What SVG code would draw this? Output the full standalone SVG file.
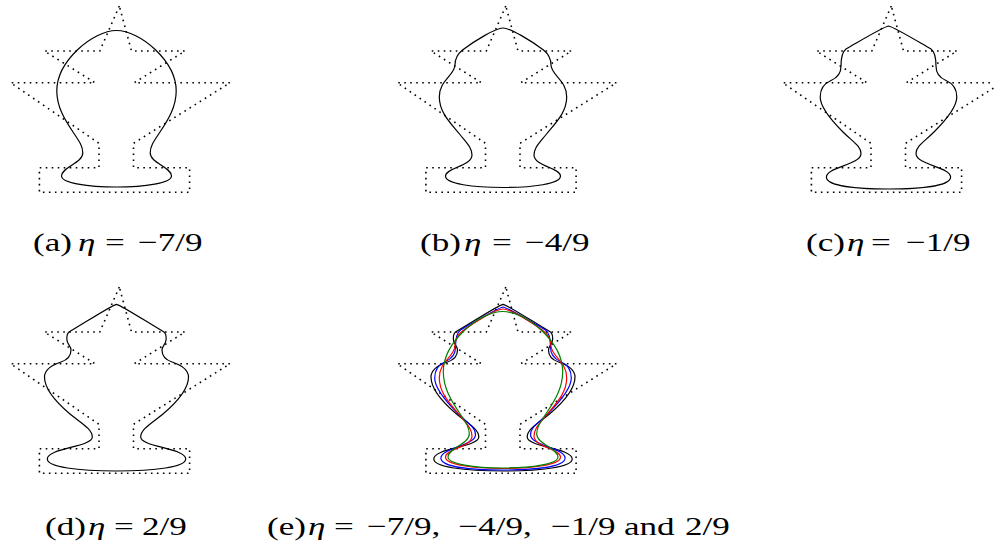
<svg xmlns="http://www.w3.org/2000/svg" width="994" height="546" viewBox="0 0 994 546">
<style>
.poly{fill:none;stroke:#000;stroke-width:1.6;stroke-dasharray:1.6 4.4}
.crv{fill:none;stroke-width:1.2}
.cap{font-family:"Liberation Serif","Times New Roman",serif;font-size:26px;fill:#000}
.it{font-style:italic}
</style>
<defs>
<path id="poly" d="M119.3,6 L99.8,51 L44.3,51 L95,82.7 L10.6,82.7 L99,143.3 L99,167.7 L39.4,167.7 L39.4,192.3 L189.6,192.3 L189.6,167.7 L133.5,167.7 L133.5,143.3 L230.1,82.7 L134.3,82.7 L185.1,51 L131.5,51 Z"/>
<path id="cA" d="M116.5,30.5 C140,30.5 176.2,61 176.2,91 C176.2,107 168,120 160,132 C154,141 150.2,146 150.2,153 C150.2,163 171.5,167 171.5,176 C171.5,183 145,187 116.5,187 C88,187 61.5,183 61.5,176 C61.5,167 82.8,163 82.8,153 C82.8,146 79,141 73,132 C65,120 56.8,107 56.8,91 C56.8,61 93,30.5 116.5,30.5 Z"/>
<path id="cB" d="M116.5,28 C124,28 145,41 157,50 C162,54 164.5,58 164.5,65 C164.5,75 180.2,80 180.2,97 C180.2,113 168,124 160,134 C152,144 147.5,148 147.5,155 C147.5,166 174,168 174,176 C174,184 146,187.5 116.5,187.5 C87,187.5 59,184 59,176 C59,168 85.5,166 85.5,155 C85.5,148 81,144 73,134 C65,124 52.8,113 52.8,97 C52.8,80 68.5,75 68.5,65 C68.5,58 71,54 76,50 C88,41 109,28 116.5,28 Z"/>
<path id="cC" d="M116.5,26 C122,27 145,41 159,49 C163,52 164,58 164,66 C164,73 168,78 174,80.5 C181,83.5 184.8,89 184.8,97 C184.8,108 173,121 162,132 C152,142 144,146 144,153.5 C144,165 178.6,167 178.6,177 C178.6,186 148,189 116.5,189 C85,189 54.4,186 54.4,177 C54.4,167 89,165 89,153.5 C89,146 81,142 71,132 C60,121 48.2,108 48.2,97 C48.2,89 52,83.5 59,80.5 C65,78 69,73 69,66 C69,58 70,52 74,49 C88,41 111,27 116.5,26 Z"/>
<path id="cD" d="M116.5,23.3 C122,24.5 150,43 164,51 C166,52.5 166.2,55 166.2,58 C166.2,63 162,65 162,69 C162,75 166,79 172,81 C181,84 188.5,88 188.5,96 C188.5,108 176,122 163,133 C152,142 140.7,148 140.7,156 C140.7,166 185.7,167 185.7,178 C185.7,186 155,190 116.5,190 C78,190 47.3,186 47.3,178 C47.3,167 92.3,166 92.3,156 C92.3,148 81,142 70,133 C57,122 44.5,108 44.5,96 C44.5,88 52,84 61,81 C67,79 71,75 71,69 C71,65 66.8,63 66.8,58 C66.8,55 67,52.5 69,51 C83,43 111,24.5 116.5,23.3 Z"/>
</defs>

<g id="panel-a" transform="translate(0,0)">
<use href="#poly" class="poly"/>
<use href="#cA" class="crv" stroke="#000"/>
</g>
<g id="panel-b" transform="translate(386.5,0)">
<use href="#poly" class="poly"/>
<use href="#cB" class="crv" stroke="#000"/>
</g>
<g id="panel-c" transform="translate(772,0)">
<use href="#poly" class="poly"/>
<use href="#cC" class="crv" stroke="#000"/>
</g>
<g id="panel-d" transform="translate(0,281)">
<use href="#poly" class="poly"/>
<use href="#cD" class="crv" stroke="#000"/>
</g>
<g id="panel-e" transform="translate(386.5,281)">
<use href="#poly" class="poly"/>
<use href="#cD" class="crv" stroke="#000"/>
<use href="#cC" class="crv" stroke="#0000ff"/>
<use href="#cB" class="crv" stroke="#ff0000"/>
<use href="#cA" class="crv" stroke="#008000"/>
</g>

<g id="captions">
<text class="cap" transform="scale(1.35,1)" y="251"><tspan x="24.44">(a)</tspan><tspan x="57.78" class="it">η</tspan><tspan x="77.8">=</tspan><tspan x="102.22">−7/9</tspan></text>
<text class="cap" transform="scale(1.35,1)" y="251"><tspan x="311.11">(b)</tspan><tspan x="343.7" class="it">η</tspan><tspan x="364.4">=</tspan><tspan x="388.89">−4/9</tspan></text>
<text class="cap" transform="scale(1.35,1)" y="251"><tspan x="597.04">(c)</tspan><tspan x="627.41" class="it">η</tspan><tspan x="645.2">=</tspan><tspan x="671.11">−1/9</tspan></text>
<text class="cap" transform="scale(1.35,1)" y="535"><tspan x="33.33">(d)</tspan><tspan x="65.19" class="it">η</tspan><tspan x="84.4">=</tspan><tspan x="105.19">2/9</tspan></text>
<text class="cap" transform="scale(1.35,1)" y="535"><tspan x="197.78">(e)</tspan><tspan x="228.15" class="it">η</tspan><tspan x="247.4">=</tspan><tspan x="271.85">−7/9,</tspan><tspan x="339.6">−4/9,</tspan><tspan x="408.15">−1/9</tspan><tspan x="462.22">and</tspan><tspan x="507.41">2/9</tspan></text>
</g>
</svg>
